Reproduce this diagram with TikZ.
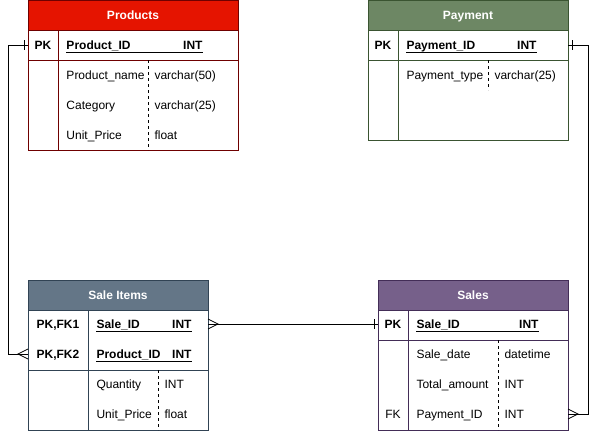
\documentclass[tikz,border=0pt]{standalone}
\usepackage{fontspec}
\setmainfont{Liberation Sans}
\begin{document}
\begin{tikzpicture}[x=1pt,y=-1pt,line width=1pt,
  txt/.style={inner sep=0pt,text height=8.6pt,text depth=0pt,font=\fontsize{12}{14}\selectfont},
  fld/.style={txt,anchor=west},
  bfld/.style={txt,anchor=west,font=\fontsize{12}{14}\selectfont\bfseries},
  bint/.style={txt,anchor=east,font=\fontsize{12}{14}\selectfont\bfseries},
  keyt/.style={txt,font=\fontsize{12}{14}\selectfont\bfseries},
  title/.style={txt,text=white,font=\fontsize{12}{14}\selectfont\bfseries},
  dsh/.style={draw=black,line width=0.8pt,dash pattern=on 3pt off 3pt},
  conn/.style={draw=black,line width=1pt},
  ermark/.style={draw=black,line width=0.8pt}
]
\definecolor{prodfill}{HTML}{E51400}\definecolor{prodline}{HTML}{6F0000}
\definecolor{payfill}{HTML}{6D8764}\definecolor{payline}{HTML}{3A5431}
\definecolor{sifill}{HTML}{647687}\definecolor{siline}{HTML}{314354}
\definecolor{safill}{HTML}{76608A}\definecolor{saline}{HTML}{432D57}
\useasboundingbox (0,0) rectangle (598,431);
\fill[white] (0,0) rectangle (598,431);

% ---------- Products ----------
\fill[prodfill] (28,0.5) rectangle (238,30);
\draw[prodline] (28,0.5) rectangle (238,150);
\draw[prodline] (28,30) -- (238,30) (28,60) -- (238,60) (58,30) -- (58,150);
\draw[dsh] (148,60) -- (148,150);
\node[title] (prodT) at (133,15) {Products};
\node[keyt] (prodK) at (43,45) {PK};
\node[bfld] (prodF) at (66,45) {Product\_ID};
\node[bint] (prodI) at (203,45) {INT};
\draw[line width=1pt] (66,52.5) -- (203,52.5);
\node[fld] (prodA) at (66,75) {Product\_name};
\node[fld] (prodAt) at (154,75) {varchar(50)};
\node[fld] (prodB) at (66,105) {Category};
\node[fld] (prodBt) at (154,105) {varchar(25)};
\node[fld] (prodC) at (66,135) {Unit\_Price};
\node[fld] (prodCt) at (154,135) {float};
\coordinate (prodL) at (28,45);

% ---------- Payment ----------
\fill[payfill] (368,0.5) rectangle (568,30);
\draw[payline] (368,0.5) rectangle (568,140);
\draw[payline] (368,30) -- (568,30) (368,60) -- (568,60) (398,30) -- (398,140);
\draw[dsh] (488,60) -- (488,90);
\node[title] (payT) at (468,15) {Payment};
\node[keyt] (payK) at (383,45) {PK};
\node[bfld] (payF) at (406,45) {Payment\_ID};
\node[bint] (payI) at (537,45) {INT};
\draw[line width=1pt] (406,52.5) -- (537,52.5);
\node[fld] (payA) at (406,75) {Payment\_type};
\node[fld] (payAt) at (494,75) {varchar(25)};
\coordinate (payR) at (568,45);

% ---------- Sale Items ----------
\fill[sifill] (28,280) rectangle (208,310);
\draw[siline] (28,280) rectangle (208,430);
\draw[siline] (28,310) -- (208,310) (28,370) -- (208,370) (88,310) -- (88,430);
\draw[dsh] (158,370) -- (158,430);
\node[title] (siT) at (118,295) {Sale Items};
\node[keyt] (siK1) at (58,324) {PK,FK1};
\node[keyt] (siK2) at (58,354) {PK,FK2};
\node[bfld] (siF1) at (96,324) {Sale\_ID};
\node[bint] (siI1) at (192,324) {INT};
\draw[line width=1pt] (96,331.5) -- (192,331.5);
\node[bfld] (siF2) at (96,354) {Product\_ID};
\node[bint] (siI2) at (192,354) {INT};
\draw[line width=1pt] (96,361.5) -- (192,361.5);
\node[fld] (siA) at (96,384) {Quantity};
\node[fld] (siAt) at (164,384) {INT};
\node[fld] (siB) at (96,414) {Unit\_Price};
\node[fld] (siBt) at (164,414) {float};
\coordinate (siR1) at (208,324);
\coordinate (siL2) at (28,354);

% ---------- Sales ----------
\fill[safill] (378,280) rectangle (568,310);
\draw[saline] (378,280) rectangle (568,430);
\draw[saline] (378,310) -- (568,310) (378,340) -- (568,340) (408,310) -- (408,430);
\draw[dsh] (498,340) -- (498,430);
\node[title] (saT) at (473,295) {Sales};
\node[keyt] (saK) at (393,324) {PK};
\node[bfld] (saF) at (416,324) {Sale\_ID};
\node[bint] (saI) at (539,324) {INT};
\draw[line width=1pt] (416,331.5) -- (539,331.5);
\node[fld] (saA) at (416,354) {Sale\_date};
\node[fld] (saAt) at (504,354) {datetime};
\node[fld] (saB) at (416,384) {Total\_amount};
\node[fld] (saBt) at (504,384) {INT};
\node[txt] (saK3) at (393,414) {FK};
\node[fld] (saC) at (416,414) {Payment\_ID};
\node[fld] (saCt) at (504,414) {INT};
\coordinate (saL) at (378,324);
\coordinate (saR3) at (568,414);

% ---------- Connectors ----------
\draw[conn] (prodL) -- ++(-20,0) |- (siL2);
\draw[ermark] ([xshift=-4pt]prodL) ++(0,-5) -- ++(0,10);
\draw[ermark] ([yshift=-5pt]siL2) -- ([xshift=-10pt]siL2) -- ([yshift=5pt]siL2);

\draw[conn] (siR1) -- (saL);
\draw[ermark] ([yshift=-5pt]siR1) -- ([xshift=10pt]siR1) -- ([yshift=5pt]siR1);
\draw[ermark] ([xshift=-4pt]saL) ++(0,-5) -- ++(0,10);

\draw[conn] (payR) -- ++(20,0) |- (saR3);
\draw[ermark] ([xshift=4pt]payR) ++(0,-5) -- ++(0,10);
\draw[ermark] ([yshift=-5pt]saR3) -- ([xshift=10pt]saR3) -- ([yshift=5pt]saR3);
\end{tikzpicture}
\end{document}
